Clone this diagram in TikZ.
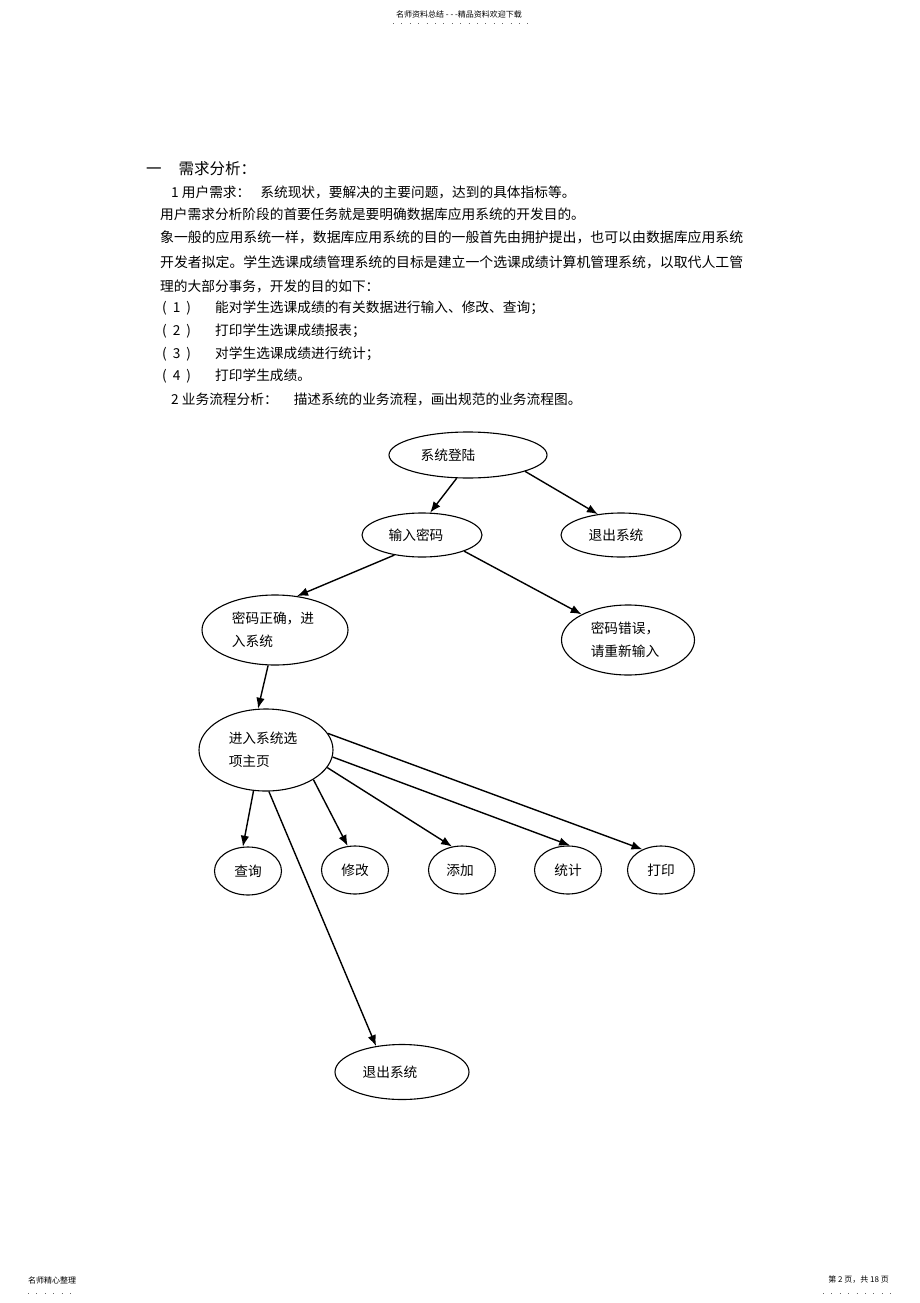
\documentclass[tikz,border=0pt]{standalone}
\usepackage{fontspec}
\newfontfamily\cjk{Noto Sans CJK SC}
\usetikzlibrary{shapes.geometric,arrows.meta}

\tikzset{
  oval/.style={shape=ellipse,draw=black,line width=1.1pt,inner sep=0pt},
  flow/.style={-{Latex[length=11pt,width=8.5pt]},line width=1.4pt},
  line/.style={anchor=west,inner sep=0pt},
  wide/.style={line,font=\cjk\fontsize{13.88pt}{23pt}\selectfont},
  tiny/.style={inner sep=0pt,font=\cjk\fontsize{8pt}{9pt}\selectfont},
  dots/.style={dash pattern=on 1pt off 7.4pt,line width=0.9pt,black!60},
}

\begin{document}
\begin{tikzpicture}[x=1pt,y=-1pt,font=\cjk\fontsize{13.7pt}{23pt}\selectfont]
  \useasboundingbox[fill=white] (0,0) rectangle (920,1303);

  % page header and footer
  \node[tiny] (head) at (459,14) {名师资料总结 - - -精品资料欢迎下载};
  \draw[dots] (393,23) -- (528,23);
  \node[tiny,anchor=west] (footl) at (28,1280) {名师精心整理};
  \draw[dots] (28,1293) -- (76,1293);
  \node[tiny,anchor=east] (footr) at (889,1280) {第 2 页，共 18 页};
  \draw[dots] (823,1293) -- (891,1293);

  % text above the chart
  \node[line,font=\cjk\fontsize{15.5pt}{18pt}\selectfont] (t1) at (146,169) {一\hspace{17pt}需求分析：};
  \node[line] (t2) at (171,192) {1 用户需求：\hspace{10pt}系统现状，要解决的主要问题，达到的具体指标等。};
  \node[line] (t3) at (160,214) {用户需求分析阶段的首要任务就是要明确数据库应用系统的开发目的。};
  \node[wide] (t4) at (160,237) {象一般的应用系统一样，数据库应用系统的目的一般首先由拥护提出，也可以由数据库应用系统};
  \node[wide] (t5) at (160,262) {开发者拟定。学生选课成绩管理系统的目标是建立一个选课成绩计算机管理系统，以取代人工管};
  \node[line] (t6) at (160,286) {理的大部分事务，开发的目的如下：};
  \node[line] (t7) at (162,308) {\makebox[53pt][l]{(\hspace{6pt}1\hspace{6pt})}能对学生选课成绩的有关数据进行输入、修改、查询；};
  \node[line] (t8) at (162,331) {\makebox[53pt][l]{(\hspace{6pt}2\hspace{6pt})}打印学生选课成绩报表；};
  \node[line] (t9) at (162,354) {\makebox[53pt][l]{(\hspace{6pt}3\hspace{6pt})}对学生选课成绩进行统计；};
  \node[line] (t10) at (162,376) {\makebox[53pt][l]{(\hspace{6pt}4\hspace{6pt})}打印学生成绩。};
  \node[line] (t11) at (171,399) {2 业务流程分析：\hspace{16pt}描述系统的业务流程，画出规范的业务流程图。};

  % flow chart
  \node[oval,minimum width=158pt,minimum height=46pt,label={[xshift=-20pt]center:系统登陆}] (login) at (468,455) {};
  \node[oval,minimum width=120pt,minimum height=44pt,label={[xshift=-6pt]center:输入密码}] (pwd) at (422,535) {};
  \node[oval,minimum width=120pt,minimum height=44pt,label={[xshift=-5pt]center:退出系统}] (exitA) at (621,535) {};
  \node[oval,minimum width=146pt,minimum height=70pt,label={[xshift=-2pt,align=left]center:密码正确，进\\入系统}] (pwdOk) at (275,630) {};
  \node[oval,minimum width=133pt,minimum height=70pt,label={[xshift=-3pt,align=left]center:密码错误，\\请重新输入}] (pwdErr) at (628,640) {};
  \node[oval,minimum width=134pt,minimum height=82pt,label={[xshift=-3pt,align=left]center:进入系统选\\项主页}] (menu) at (266,750) {};
  \node[oval,minimum width=67pt,minimum height=48pt,label={center:查询}] (query) at (248,871) {};
  \node[oval,minimum width=67pt,minimum height=48pt,label={center:修改}] (modify) at (355,870) {};
  \node[oval,minimum width=67pt,minimum height=48pt,label={[xshift=-2pt]center:添加}] (add) at (462,870) {};
  \node[oval,minimum width=67pt,minimum height=48pt,label={center:统计}] (stat) at (568,870) {};
  \node[oval,minimum width=67pt,minimum height=48pt,label={center:打印}] (print) at (661,870) {};
  \node[oval,minimum width=134pt,minimum height=55pt,label={[xshift=-12pt]center:退出系统}] (exitB) at (402,1072) {};

  \draw[flow] (login.-116) -- (pwd.70);
  \draw[flow] (login.-16) -- (exitA.138);
  \draw[flow] (pwd.-144) -- (pwdOk.57);
  \draw[flow] (pwd.-21) -- (pwdErr.151);
  \draw[flow] (pwdOk.-101) -- (menu.101);
  \draw[flow] (menu.-107) -- (query.102);
  \draw[flow] (menu.-86) -- (exitB.135);
  \draw[flow] (menu.-32) -- (modify.107);
  \draw[flow] (menu.-16) -- (add.113);
  \draw[flow] (menu.-6) -- (stat.85);
  \draw[flow] (menu.15) -- (print.132);
\end{tikzpicture}
\end{document}
